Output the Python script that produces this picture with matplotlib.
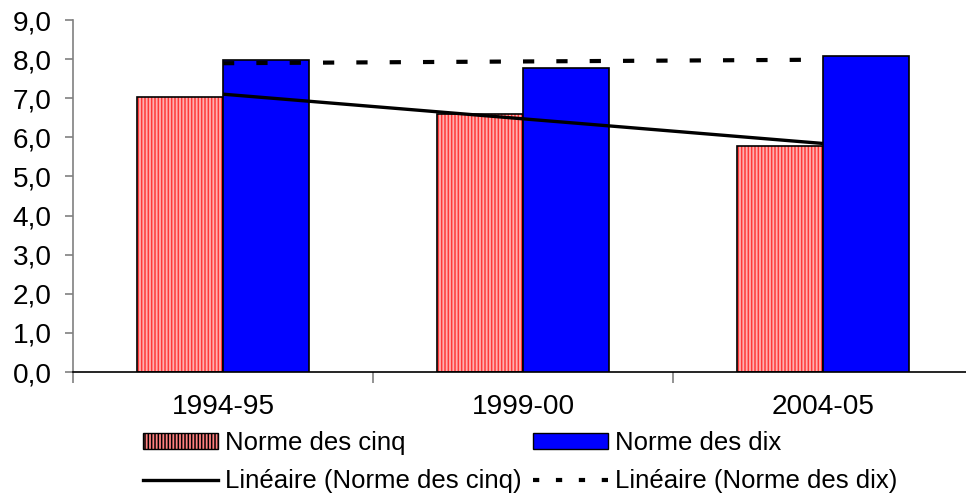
import matplotlib
matplotlib.use("Agg")
import matplotlib.pyplot as plt
import numpy as np
from matplotlib.patches import Patch
from matplotlib.lines import Line2D

categories = ["1994-95", "1999-00", "2004-05"]
cinq = [7.04, 6.60, 5.78]
dix = [7.98, 7.77, 8.07]
yticks = [0.0, 1.0, 2.0, 3.0, 4.0, 5.0, 6.0, 7.0, 8.0, 9.0]
series_names = ["Norme des cinq", "Norme des dix"]
trend_names = ["Linéaire (Norme des cinq)", "Linéaire (Norme des dix)"]

plt.rcParams['font.family'] = ['Liberation Sans', 'DejaVu Sans']
plt.rcParams['hatch.linewidth'] = 1.1

fig = plt.figure(figsize=(9.66, 4.99), dpi=100)
ax = fig.add_axes([73/966, 1-372/499, 900/966, 352/499])

x = np.arange(1, len(categories)+1)
w = 1/3.5
# hatched red bars
ax.bar(x - w/2, cinq, width=w, facecolor='#ffb0b0', edgecolor='#ff3838',
       hatch='|||||', linewidth=0, zorder=2)
ax.bar(x - w/2, cinq, width=w, facecolor='none', edgecolor='black',
       linewidth=1.2, zorder=3)
ax.bar(x + w/2, dix, width=w, facecolor='#0000ff', edgecolor='black',
       linewidth=1.2, zorder=3)

# linear trend lines
pc = np.polyfit(x, cinq, 1)
pd_ = np.polyfit(x, dix, 1)
ax.plot(x, np.polyval(pc, x), color='black', lw=2.4, zorder=4,
        solid_capstyle='butt')
ax.plot(x, np.polyval(pd_, x), color='black', lw=3.0, zorder=4,
        linestyle=(0, (2.7, 5.3)))

tick_fs = 20.2
ax.set_xlim(0.5, 3.5)
ax.set_ylim(0, 9)
ax.set_yticks(yticks)
ax.set_yticklabels([f"{v:.1f}".replace('.', ',') for v in yticks], fontsize=tick_fs)
ax.set_xticks(x)
ax.set_xticklabels(categories, fontsize=tick_fs)
ax.set_xticks([0.5, 1.5, 2.5, 3.5], minor=True)
ax.tick_params(axis='x', which='major', length=0, pad=16)
ax.tick_params(axis='x', which='minor', length=8, color='#808080', width=1.2)
ax.tick_params(axis='y', length=6, color='#808080', width=1.2, pad=9.5)
for s in ['top', 'right']:
    ax.spines[s].set_visible(False)
ax.spines['left'].set_color('#808080')
ax.spines['left'].set_linewidth(1.2)
ax.spines['bottom'].set_color('black')
ax.spines['bottom'].set_linewidth(1.2)

handles = [
    Patch(facecolor='#ff8080', edgecolor='black', hatch='|||||', linewidth=1.0),
    Line2D([], [], color='black', lw=2.4),
    Patch(facecolor='#0000ff', edgecolor='black', linewidth=1.0),
    Line2D([], [], color='black', lw=3.0, linestyle=(0, (1.5, 4.0))),
]
labels = [series_names[0], trend_names[0], series_names[1], trend_names[1]]
fig.legend(handles, labels, ncol=2, loc='center left',
           bbox_to_anchor=(143/966, 1-462/499), frameon=False,
           fontsize=18.5, handlelength=2.92, handletextpad=0.27,
           columnspacing=0.45, labelspacing=0.55, borderpad=0, borderaxespad=0,
           handleheight=0.58)

fig.savefig("out.png", dpi=100)
